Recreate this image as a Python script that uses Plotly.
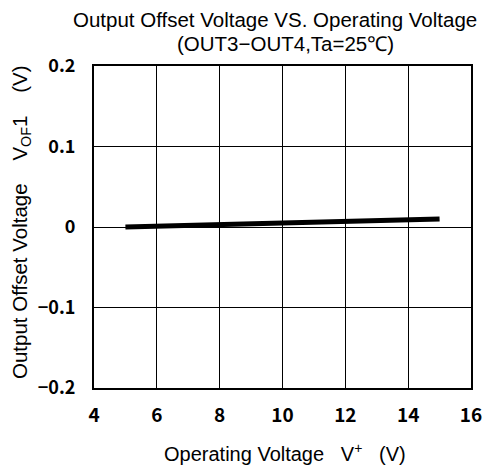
import plotly.graph_objects as go

voltage = [5, 6, 7, 8, 9, 10, 11, 12, 13, 14, 15]
offset = [0.000, 0.001, 0.002, 0.003, 0.004, 0.005, 0.006, 0.007, 0.008, 0.009, 0.010]
x_ticks = [4, 6, 8, 10, 12, 14, 16]
y_ticks = [-0.2, -0.1, 0, 0.1, 0.2]
y_tick_text = ["−0.2", "−0.1", "0", "0.1", "0.2"]
title_lines = ["Output Offset Voltage VS. Operating Voltage", "(OUT3−OUT4,Ta=25℃)"]
sp3 = "\u00a0\u00a0\u00a0"
sp4 = "\u00a0\u00a0\u00a0\u00a0"
x_title = "Operating Voltage" + sp3 + "V<sup>+</sup>" + sp3 + "(V)"
y_title = "Output Offset Voltage" + sp4 + "V<sub>OF</sub>1" + sp4 + "(V)"

text_family = "Liberation Sans, Arial, sans-serif"
tick_family = "Noto Sans CJK JP, DejaVu Sans, sans-serif"

fig = go.Figure()
fig.add_trace(go.Scatter(x=voltage, y=offset, mode="lines",
                         line=dict(color="black", width=5), showlegend=False))

fig.update_layout(
    width=486, height=464,
    margin=dict(l=86, r=23, t=58, b=84, autoexpand=False),
    paper_bgcolor="white", plot_bgcolor="white",
    font=dict(family=text_family, color="black", size=16),
)
fig.add_annotation(text=title_lines[0], xref="paper", yref="paper", x=0.48, y=1.0,
                   xanchor="center", yanchor="middle", yshift=46.5, showarrow=False,
                   font=dict(size=20.5, family=text_family))
fig.add_annotation(text=title_lines[1], xref="paper", yref="paper", x=0.507, y=1.0,
                   xanchor="center", yanchor="middle", yshift=23, showarrow=False,
                   font=dict(size=20.5, family=text_family))
fig.add_annotation(text=x_title, xref="paper", yref="paper", x=0.507, y=0.0,
                   xanchor="center", yanchor="middle", yshift=-64, showarrow=False,
                   font=dict(size=20, family=text_family))
fig.add_annotation(text=y_title, xref="paper", yref="paper", x=0.0, y=0.5,
                   xanchor="center", yanchor="middle", xshift=-73, yshift=5, showarrow=False,
                   textangle=-90, font=dict(size=20.5, family=text_family))
fig.update_xaxes(range=[4, 16], tickvals=x_ticks, showgrid=True, gridcolor="black", gridwidth=1,
                 showline=True, linecolor="black", linewidth=2, mirror=True, zeroline=False,
                 ticks="outside", ticklen=9, tickcolor="white", automargin=False,
                 tickfont=dict(size=19, weight="bold", family=tick_family))
fig.update_yaxes(range=[-0.2, 0.2], tickvals=y_ticks, ticktext=y_tick_text, showgrid=True,
                 gridcolor="black", gridwidth=1, automargin=False,
                 showline=True, linecolor="black", linewidth=2, mirror=True, zeroline=False,
                 ticks="outside", ticklen=13, tickcolor="white",
                 tickfont=dict(size=18, weight="bold", family=tick_family))

fig.write_html("out.html")
